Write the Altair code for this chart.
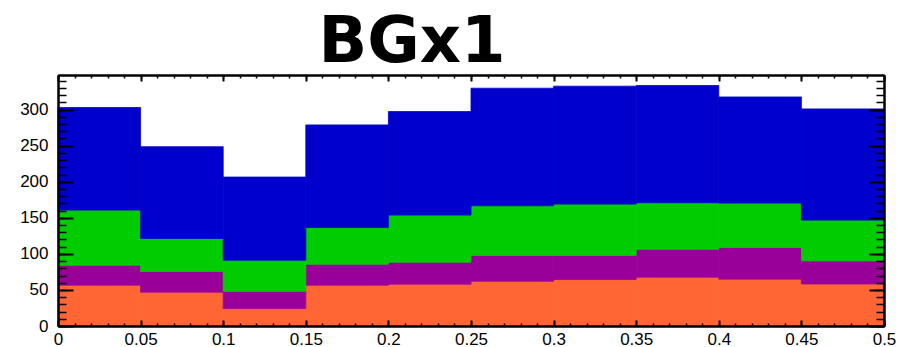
import altair as alt
import pandas as pd

# Histogram binning: 10 bins of width 0.05 from 0 to 0.5
bin_lo = [0.0, 0.05, 0.1, 0.15, 0.2, 0.25, 0.3, 0.35, 0.4, 0.45]
bin_hi = [0.05, 0.1, 0.15, 0.2, 0.25, 0.3, 0.35, 0.4, 0.45, 0.5]

# Per-component contents, stacked from the bottom up
comp_names = ["c1", "c2", "c3", "c4"]
comp_colors = ["#FF6633", "#990099", "#00CC00", "#0000CC"]
c1 = [56.5, 46.8, 24.1, 56.5, 57.9, 62.0, 64.4, 67.6, 64.9, 58.3]
c2 = [27.8, 28.7, 24.1, 29.2, 30.6, 35.8, 33.4, 38.9, 44.0, 32.0]
c3 = [76.4, 45.8, 43.0, 50.9, 65.3, 68.9, 71.2, 64.4, 61.5, 56.5]
c4 = [142.3, 127.3, 115.3, 142.2, 143.5, 163.0, 163.5, 162.5, 147.2, 154.2]

# Axis ticks
x_major = [0, 0.05, 0.1, 0.15, 0.2, 0.25, 0.3, 0.35, 0.4, 0.45, 0.5]
x_minor = [round(i * 0.01, 2) for i in range(51)]
y_major = [0, 50, 100, 150, 200, 250, 300]
y_minor = list(range(0, 350, 10))
y_max = 348

title_text = "BGx1"

rows = []
for rank, (name, vals) in enumerate(zip(comp_names, [c1, c2, c3, c4])):
    for lo, hi, v in zip(bin_lo, bin_hi, vals):
        rows.append({"lo": lo, "hi": hi, "comp": name, "rank": rank, "value": v})
df = pd.DataFrame(rows)

W, H = 826, 251
FONT = "Liberation Sans"

xscale = alt.Scale(domain=[0, 0.5], nice=False, zero=False)
yscale = alt.Scale(domain=[0, y_max], nice=False)
cscale = alt.Scale(domain=comp_names, range=comp_colors)


def tick_axis(orient, offset, values, size, width=2):
    return alt.Axis(
        orient=orient, offset=offset, values=values, tickSize=size,
        tickWidth=width, tickColor="black", labels=False, title=None,
        grid=False, domain=True, domainColor="black", domainWidth=2,
        zindex=2,
    )


base = alt.Chart(df)

# Stacked histogram: each component's segment runs from y0 to y1 in its bin
bars = base.transform_stack(
    stack="value", groupby=["lo"], as_=["y0", "y1"],
    sort=[alt.SortField("rank", order="ascending")],
).mark_bar(strokeWidth=0.8).encode(
    x=alt.X("lo:Q", scale=xscale, axis=alt.Axis(
        orient="bottom", values=x_major, format="~g", ticks=False,
        domain=False, grid=False, title=None, labelFont=FONT,
        labelFontSize=17, labelColor="black", labelPadding=5,
        labelFlush=False, labelOverlap=False, labelBound=False)),
    x2="hi:Q",
    y=alt.Y("y0:Q", scale=yscale, axis=alt.Axis(
        orient="left", values=y_major, format="d", ticks=False,
        domain=False, grid=False, title=None, labelFont=FONT,
        labelFontSize=17, labelColor="black", labelPadding=10,
        labelFlush=False, labelOverlap=False, labelBound=False)),
    y2="y1:Q",
    color=alt.Color("comp:N", scale=cscale, legend=None),
    stroke=alt.Stroke("comp:N", scale=cscale, legend=None),
)


def tick_layer(xaxis, yaxis):
    return base.mark_point(opacity=0, size=0).encode(
        x=alt.X("lo:Q", scale=xscale, axis=xaxis),
        y=alt.Y("value:Q", scale=yscale, axis=yaxis),
    )


# Title above the frame
title = alt.Chart(pd.DataFrame({"t": [title_text]})).mark_text(
    font="DejaVu Sans", fontSize=64, fontWeight="bold", color="black",
    align="center", baseline="alphabetic",
).encode(text="t:N", x=alt.value(354), y=alt.value(-13))

# Inward-pointing ticks on all four sides of the frame
layers = [
    bars,
    tick_layer(tick_axis("top", -H, x_major, 6), tick_axis("right", -W, y_major, 15)),
    tick_layer(tick_axis("top", -H, x_minor, 3, 1.5), tick_axis("right", -W, y_minor, 8, 1.5)),
    tick_layer(tick_axis("bottom", -H, x_major, 6), tick_axis("left", -W, y_major, 15)),
    tick_layer(tick_axis("bottom", -H, x_minor, 3, 1.5), tick_axis("left", -W, y_minor, 8, 1.5)),
    title,
]

chart = alt.layer(*layers).resolve_axis(
    x="independent", y="independent"
).properties(
    width=W, height=H,
    autosize="none",
    padding={"left": 58, "top": 75, "right": 20, "bottom": 21},
).configure_view(stroke=None).configure(background="white")

chart.save("out.html", embed_options={"renderer": "svg", "actions": False})
